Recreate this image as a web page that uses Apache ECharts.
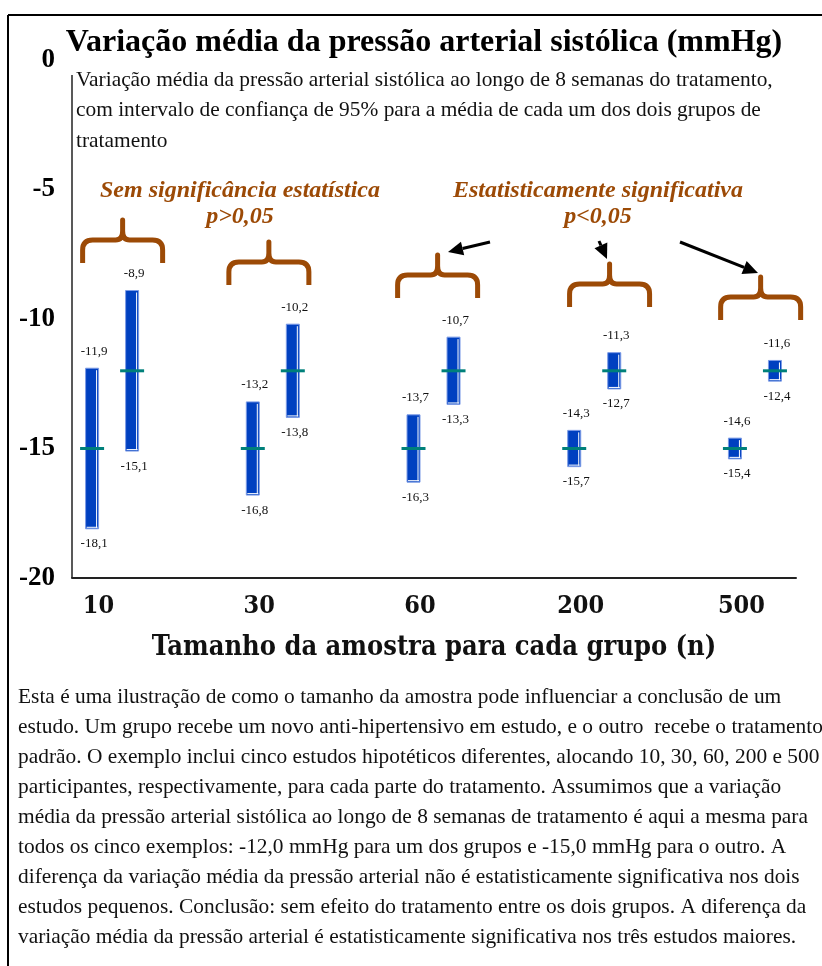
<!DOCTYPE html>
<html>
<head>
<meta charset="utf-8">
<script src="https://cdn.jsdelivr.net/npm/echarts@6/dist/echarts.min.js"></script>
<style>
  html, body { margin: 0; padding: 0; background: #fff; }
  #chart { width: 822px; height: 966px; }
</style>
</head>
<body>
<div id="chart"></div>
<script>
// tamanho da amostra (n) por grupo
var categories = ['10', '30', '60', '200', '500'];

// grupo A: media -15,0
var meanA = [-15, -15, -15, -15, -15];
var lowA  = [-18.1, -16.8, -16.3, -15.7, -15.4];
var highA = [-11.9, -13.2, -13.7, -14.3, -14.6];

// grupo B: media -12,0
var meanB = [-12, -12, -12, -12, -12];
var lowB  = [-15.1, -13.8, -13.3, -12.7, -12.4];
var highB = [-8.9, -10.2, -10.7, -11.3, -11.6];

var yTicks = [0, -5, -10, -15, -20];

// chaves (posicao do bico, em unidades do eixo)
var braceX   = [0.19, 1.10, 2.15, 3.22, 4.16];
var braceTop = [-6.1, -6.95, -7.45, -7.8, -8.3];

var offsetB = 0.249;
var labelPos = categories.map(function (c, i) { return i + 0.04; });

var fmt = function (v) { return v.toFixed(1).replace('.', ','); };

var barData = [];
categories.forEach(function (c, i) {
    barData.push([i, lowA[i], highA[i], meanA[i]]);
    barData.push([i + offsetB, lowB[i], highB[i], meanB[i]]);
});
var braceData = braceX.map(function (x, i) { return [x, braceTop[i]]; });

var serif = '"Liberation Serif", "Times New Roman", serif';
var condensed = '"DejaVu Serif Condensed", "Liberation Serif", serif';
var brown = '#9C4A06';

function renderBar(params, api) {
    var x = api.value(0), lo = api.value(1), hi = api.value(2), mean = api.value(3);
    var pTop = api.coord([x, hi]);
    var pBot = api.coord([x, lo]);
    var pMean = api.coord([x, mean]);
    var w = 13;
    var cx = pTop[0];
    var lblFont = '13px ' + serif;
    return {
        type: 'group',
        children: [
            { type: 'rect', shape: { x: cx - w / 2, y: pTop[1], width: w, height: pBot[1] - pTop[1] },
              style: { fill: '#0040C0', stroke: '#7C9BE6', lineWidth: 1 } },
            { type: 'line', shape: { x1: cx + w / 2 - 2, y1: pTop[1] + 2, x2: cx + w / 2 - 2, y2: pBot[1] - 1 },
              style: { stroke: '#ffffff', lineWidth: 1 } },
            { type: 'line', shape: { x1: cx - w / 2 + 1, y1: pBot[1] - 1.5, x2: cx + w / 2 - 1, y2: pBot[1] - 1.5 },
              style: { stroke: '#ffffff', lineWidth: 1 } },
            { type: 'line', shape: { x1: cx - 12, y1: pMean[1], x2: cx + 12, y2: pMean[1] },
              style: { stroke: '#00807A', lineWidth: 3 } },
            { type: 'text', x: cx + 2, y: pTop[1] - 17,
              style: { text: fmt(hi), font: lblFont, fill: '#111', align: 'center', verticalAlign: 'middle' } },
            { type: 'text', x: cx + 2, y: pBot[1] + 15,
              style: { text: fmt(lo), font: lblFont, fill: '#111', align: 'center', verticalAlign: 'middle' } }
        ]
    };
}

function renderBrace(params, api) {
    var p = api.coord([api.value(0), api.value(1)]);
    var cx = p[0], y0 = p[1];
    var w = 80, h = 45, m = 22, r = 10;
    var x0 = cx - w / 2, x1 = cx + w / 2;
    var d = 'M' + x0 + ',' + (y0 + h) +
        ' L' + x0 + ',' + (y0 + m + r) +
        ' Q' + x0 + ',' + (y0 + m) + ' ' + (x0 + r) + ',' + (y0 + m) +
        ' L' + (cx - 7) + ',' + (y0 + m) +
        ' Q' + cx + ',' + (y0 + m) + ' ' + cx + ',' + (y0 + m - 9) +
        ' L' + cx + ',' + (y0 + 2) +
        ' L' + cx + ',' + (y0 + m - 9) +
        ' Q' + cx + ',' + (y0 + m) + ' ' + (cx + 7) + ',' + (y0 + m) +
        ' L' + (x1 - r) + ',' + (y0 + m) +
        ' Q' + x1 + ',' + (y0 + m) + ' ' + x1 + ',' + (y0 + m + r) +
        ' L' + x1 + ',' + (y0 + h);
    return {
        type: 'path',
        shape: { pathData: d },
        style: { stroke: brown, lineWidth: 5, fill: null, lineJoin: 'round', lineCap: 'butt' }
    };
}

function arrow(x1, y1, x2, y2) {
    var dx = x2 - x1, dy = y2 - y1, L = Math.sqrt(dx * dx + dy * dy);
    var ux = dx / L, uy = dy / L, hl = 15, hw = 7;
    var bx = x2 - ux * hl, by = y2 - uy * hl;
    return [
        { type: 'line', shape: { x1: x1, y1: y1, x2: bx, y2: by }, style: { stroke: '#000', lineWidth: 3 } },
        { type: 'polygon', shape: { points: [[x2, y2], [bx - uy * hw, by + ux * hw], [bx + uy * hw, by - ux * hw]] },
          style: { fill: '#000' } }
    ];
}

var subtitle = 'Variação média da pressão arterial sistólica ao longo de 8 semanas do tratamento,\n' +
    'com intervalo de confiança de 95% para a média de cada um dos dois grupos de\n' +
    'tratamento';

var paragraph = 'Esta é uma ilustração de como o tamanho da amostra pode influenciar a conclusão de um\n' +
    'estudo. Um grupo recebe um novo anti-hipertensivo em estudo, e o outro  recebe o tratamento\n' +
    'padrão. O exemplo inclui cinco estudos hipotéticos diferentes, alocando 10, 30, 60, 200 e 500\n' +
    'participantes, respectivamente, para cada parte do tratamento. Assumimos que a variação\n' +
    'média da pressão arterial sistólica ao longo de 8 semanas de tratamento é aqui a mesma para\n' +
    'todos os cinco exemplos: -12,0 mmHg para um dos grupos e -15,0 mmHg para o outro. A\n' +
    'diferença da variação média da pressão arterial não é estatisticamente significativa nos dois\n' +
    'estudos pequenos. Conclusão: sem efeito do tratamento entre os dois grupos. A diferença da\n' +
    'variação média da pressão arterial é estatisticamente significativa nos três estudos maiores.';

var graphics = [
    // moldura
    { type: 'line', shape: { x1: 8, y1: 15, x2: 822, y2: 15 }, style: { stroke: '#000', lineWidth: 2 } },
    { type: 'line', shape: { x1: 8, y1: 15, x2: 8, y2: 966 }, style: { stroke: '#000', lineWidth: 2 } },
    // eixo vertical do grafico
    { type: 'line', shape: { x1: 72, y1: 75, x2: 72, y2: 578 }, style: { stroke: '#222', lineWidth: 1.5 } },
    { type: 'text', x: 424, y: 43,
      style: { text: 'Variação média da pressão arterial sistólica (mmHg)', font: 'bold 32px ' + serif,
               fill: '#000', align: 'center', verticalAlign: 'middle' } },
    { type: 'text', x: 76, y: 65,
      style: { text: subtitle, font: '21.4px ' + serif, lineHeight: 30.5, fill: '#111', align: 'left', verticalAlign: 'top' } },
    { type: 'text', x: 240, y: 204,
      style: { text: 'Sem significância estatística\np>0,05', font: 'italic bold 24px ' + serif, lineHeight: 26,
               fill: brown, align: 'center', verticalAlign: 'middle' } },
    { type: 'text', x: 598, y: 204,
      style: { text: 'Estatisticamente significativa\np<0,05', font: 'italic bold 24px ' + serif, lineHeight: 26,
               fill: brown, align: 'center', verticalAlign: 'middle' } },
    { type: 'text', x: 18, y: 682,
      style: { text: paragraph, font: '21.4px ' + serif, lineHeight: 30.1, fill: '#111', align: 'left', verticalAlign: 'top' } }
].concat(arrow(490, 242, 448, 252), arrow(599, 241, 607, 259), arrow(680, 242, 758, 273));

var chart = echarts.init(document.getElementById('chart'));
chart.setOption({
    animation: false,
    backgroundColor: '#fff',
    grid: { left: 72, right: 26, top: 60, bottom: 388 },
    xAxis: {
        type: 'value',
        min: -0.125,
        max: 4.38,
        splitLine: { show: false },
        axisTick: { show: false },
        axisLine: { show: true, onZero: false, lineStyle: { color: '#222', width: 2 } },
        axisLabel: {
            customValues: labelPos,
            margin: 16,
            color: '#111',
            fontFamily: condensed,
            fontWeight: 'bold',
            fontSize: 25,
            formatter: function (v) { return categories[Math.round(v)]; }
        },
        name: 'Tamanho da amostra para cada grupo (n)',
        nameLocation: 'middle',
        nameGap: 56,
        nameTextStyle: {
            color: '#111',
            fontFamily: condensed,
            fontWeight: 'bold',
            fontSize: 27
        }
    },
    yAxis: {
        type: 'value',
        min: -20,
        max: 0,
        interval: 5,
        splitLine: { show: false },
        axisTick: { show: false },
        axisLine: { show: false },
        axisLabel: {
            customValues: yTicks,
            margin: 17,
            color: '#000',
            fontFamily: serif,
            fontWeight: 'bold',
            fontSize: 27
        }
    },
    series: [
        { type: 'custom', name: 'braces', renderItem: renderBrace, data: braceData, silent: true },
        { type: 'custom', name: 'IC 95%', renderItem: renderBar, data: barData,
          encode: { x: 0, y: [1, 2, 3] }, silent: true }
    ],
    graphic: graphics
});
</script>
</body>
</html>
